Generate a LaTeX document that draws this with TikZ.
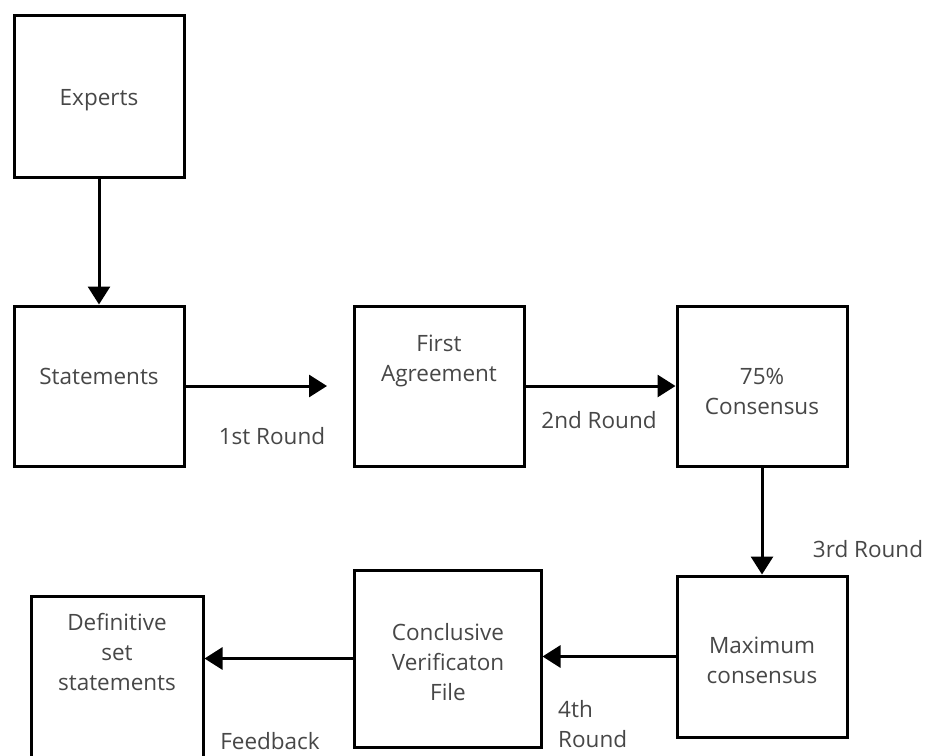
\documentclass[tikz,border=0pt]{standalone}
\usepackage{fontspec}
\setmainfont{Open Sans}
\usetikzlibrary{arrows.meta}
\definecolor{txt}{HTML}{474747}
\begin{document}
\begin{tikzpicture}[x=1pt,y=-1pt,
  box/.style={draw=black,line width=3pt,inner sep=0pt,minimum width=170pt,minimum height=160pt},
  lbl/.style={text=txt,inner sep=0pt,align=center,font=\fontsize{22.5}{30}\selectfont},
  conn/.style={line width=3pt,-{Triangle[width=22pt,length=18pt]}}]
\useasboundingbox (0,0) rectangle (926,755);
\clip (0,0) rectangle (926,755);
\fill[white] (0,0) rectangle (926,755);
% boxes
\node[box,minimum height=162pt] (experts) at (99,96) {};
\node[box] (statements) at (99,386) {};
\node[box] (first) at (439,386) {};
\node[box] (cons) at (762,386) {};
\node[box,minimum height=161pt] (maxc) at (762,656.5) {};
\node[box,minimum width=187pt,minimum height=177pt] (concl) at (447.5,658.5) {};
\node[box,minimum width=172pt,minimum height=180pt] (defin) at (117,686) {};
% texts
\node[lbl] (expertsT) at (99,100) {Experts};
\node[lbl] (statementsT) at (99,376) {Statements};
\node[lbl] (firstT) at (439,361) {First\\Agreement};
\node[lbl] (consT) at (762,391) {75\%\\Consensus};
\node[lbl] (maxcT) at (762,660) {Maximum\\consensus};
\node[lbl] (conclT) at (448,662) {Conclusive\\Verificaton\\File};
\node[lbl] (definT) at (117,652) {Definitive\\set\\statements};
% edge labels
\node[lbl] (r1) at (272,436) {1st Round};
\node[lbl] (r2) at (599,420) {2nd Round};
\node[lbl] (r3) at (868,549) {3rd Round};
\node[lbl,align=left,anchor=west] (r4) at (558,724) {4th\\Round};
\node[lbl] (fb) at (270,741) {Feedback};
% connectors
\coordinate (free1) at (327,386);
\draw[conn] (experts.south) -- (statements.north);
\draw[conn] (statements.east) -- (free1);
\draw[conn] (first.east) -- (cons.west);
\draw[conn] (cons.south) -- (maxc.north);
\draw[conn] (maxc.west) -- (maxc.west -| concl.east);
\draw[conn] (concl.west) -- (concl.west -| defin.east);
\end{tikzpicture}
\end{document}
